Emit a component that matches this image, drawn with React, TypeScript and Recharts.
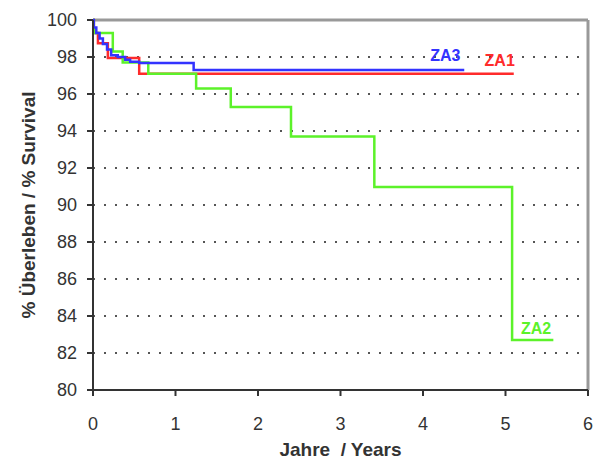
import {
  CartesianGrid,
  Line,
  LineChart,
  ReferenceDot,
  ReferenceLine,
  XAxis,
  YAxis,
} from "recharts";

// Kaplan-Meier survival (%) per group, as (years, survival) step points
const za1Years = [0, 0.01, 0.06, 0.18, 0.56, 5.1];
const za1Survival = [100, 99.3, 98.75, 97.95, 97.1, 97.1];

const za2Years = [0, 0.01, 0.24, 0.36, 0.67, 1.25, 1.67, 2.4, 3.41, 5.08, 5.58];
const za2Survival = [100, 99.3, 98.3, 97.7, 97.1, 96.3, 95.3, 93.7, 90.97, 82.7, 82.7];

const za3Years = [0, 0.01, 0.04, 0.08, 0.12, 0.17, 0.22, 0.3, 0.39, 0.45, 0.56, 1.22, 4.5];
const za3Survival = [100, 99.6, 99.3, 99.0, 98.7, 98.4, 98.1, 98.0, 97.85, 97.75, 97.68, 97.3, 97.3];

const xTicks = [0, 1, 2, 3, 4, 5, 6];
const yTicks = [80, 82, 84, 86, 88, 90, 92, 94, 96, 98, 100];

const toPoints = (years: number[], survival: number[]) =>
  years.map((t, i) => ({ t, v: survival[i] }));

const series = [
  { name: "ZA1", color: "#ff2b2b", data: toPoints(za1Years, za1Survival) },
  { name: "ZA2", color: "#5cf22a", data: toPoints(za2Years, za2Survival) },
  { name: "ZA3", color: "#3333ff", data: toPoints(za3Years, za3Survival) },
];

// where the group names sit, in chart coordinates
const tags = [
  { name: "ZA3", t: 4.27, v: 98.1, color: "#3333ff" },
  { name: "ZA1", t: 4.93, v: 97.8, color: "#ff2b2b" },
  { name: "ZA2", t: 5.37, v: 83.35, color: "#5cf22a" },
];

const font = "Arial, 'Liberation Sans', sans-serif";

export default function App() {
  return (
    <div style={{ position: "absolute", left: 0, top: 0, background: "#fff" }}>
      <LineChart
        width={602}
        height={461}
        margin={{ top: 20, right: 14, bottom: 3, left: 33 }}
        style={{ fontFamily: font }}
      >
        <CartesianGrid
          vertical={false}
          stroke="#555"
          strokeWidth={2}
          strokeDasharray="2 9"
        />
        <XAxis
          type="number"
          dataKey="t"
          domain={[0, 6]}
          ticks={xTicks}
          height={68}
          allowDuplicatedCategory={false}
          axisLine={{ stroke: "#333", strokeWidth: 2 }}
          tickLine={{ stroke: "#333", strokeWidth: 2 }}
          tickSize={6}
          tick={{ fill: "#333", fontSize: 18 }}
          tickMargin={21}
          label={{
            value: "Jahre\u00a0 / Years",
            position: "insideBottom",
            offset: 2,
            fill: "#333",
            fontSize: 19,
            fontWeight: "bold",
          }}
        />
        <YAxis
          type="number"
          domain={[80, 100]}
          ticks={yTicks}
          width={60}
          axisLine={{ stroke: "#333", strokeWidth: 2 }}
          tickLine={{ stroke: "#333", strokeWidth: 2 }}
          tickSize={6}
          tick={{ fill: "#333", fontSize: 18 }}
          tickMargin={10}
          label={{
            value: "% Überleben / % Survival",
            angle: -90,
            position: "insideLeft",
            offset: -5,
            style: { textAnchor: "middle" },
            fill: "#333",
            fontSize: 19,
            fontWeight: "bold",
          }}
        />
        <ReferenceLine y={100} stroke="#999" strokeWidth={3} />
        <ReferenceLine x={6} stroke="#999" strokeWidth={3} />
        {series.map((s) => (
          <Line
            key={s.name}
            data={s.data}
            dataKey="v"
            type="stepAfter"
            stroke={s.color}
            strokeWidth={2.5}
            dot={false}
            isAnimationActive={false}
          />
        ))}
        {tags.map((g) => (
          <ReferenceDot
            key={g.name}
            x={g.t}
            y={g.v}
            r={0}
            stroke="none"
            label={{
              value: g.name,
              position: "center",
              fill: g.color,
              fontSize: 16,
              fontWeight: "bold",
            }}
          />
        ))}
      </LineChart>
    </div>
  );
}
